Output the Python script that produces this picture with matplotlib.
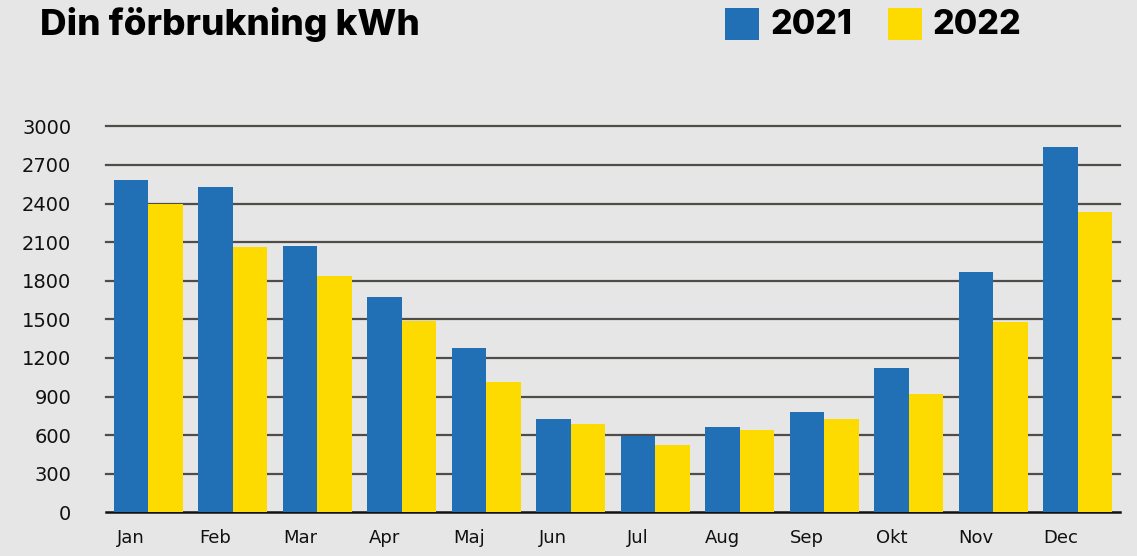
import matplotlib
matplotlib.use("Agg")
import matplotlib.pyplot as plt
import numpy as np

months = ["Jan", "Feb", "Mar", "Apr", "Maj", "Jun", "Jul", "Aug", "Sep", "Okt", "Nov", "Dec"]
values_2021 = [2580, 2530, 2070, 1675, 1275, 725, 590, 660, 780, 1120, 1865, 2840]
values_2022 = [2400, 2060, 1840, 1485, 1010, 685, 520, 640, 725, 920, 1480, 2335]
series_labels = ["2021", "2022"]
yticks = [0, 300, 600, 900, 1200, 1500, 1800, 2100, 2400, 2700, 3000]

BLUE = "#2170b5"
YELLOW = "#fedb00"
BG = "#e6e6e6"
GRID = "#4f4c4a"

W, H = 1137, 556
fig = plt.figure(figsize=(W / 100, H / 100), dpi=100, facecolor=BG)
ax = fig.add_axes([106 / W, 1 - 512.3 / H, (1120 - 106) / W, (512.3 - 126.3) / H])
ax.set_facecolor(BG)

x = np.arange(len(months))
bw = 0.41
ax.bar(x - bw / 2, values_2021, width=bw, color=BLUE, zorder=3, linewidth=0)
ax.bar(x + bw / 2, values_2022, width=bw, color=YELLOW, zorder=3, linewidth=0)

ax.set_xlim(-0.5, len(months) - 0.5)
ax.set_ylim(0, 3000)
for t in yticks[1:]:
    ax.axhline(t, color=GRID, linewidth=1.6, zorder=1, clip_on=False)
ax.axhline(0, color="#111111", linewidth=1.8, zorder=2, clip_on=False)

for s in ax.spines.values():
    s.set_visible(False)

ax.set_yticks(yticks)
ax.set_yticklabels([str(t) for t in yticks], fontsize=14, family="DejaVu Sans", color="#111111")
ax.set_xticks(x - bw / 2)
ax.set_xticklabels(months, fontsize=13, family="DejaVu Sans", color="#111111")
ax.tick_params(axis="y", length=0, pad=25)
ax.tick_params(axis="x", length=0, pad=12)

# Title
fig.text(40 / W, 1 - 25 / H, "Din förbrukning kWh", fontsize=26.5, fontweight="heavy",
         family="Inter", va="center", ha="left", color="#000000")

# Legend
def legend_item(x0, color, label):
    fig.patches.append(plt.Rectangle((x0 / W, 1 - 40 / H), 34 / W, 32 / H,
                                     transform=fig.transFigure, facecolor=color,
                                     edgecolor="none", figure=fig))
    fig.text((x0 + 45) / W, 1 - 25 / H, label, fontsize=24.5, fontweight="heavy",
             family="Inter", va="center", ha="left", color="#000000")

legend_item(725, BLUE, series_labels[0])
legend_item(888, YELLOW, series_labels[1])

fig.savefig("out.png", dpi=100, facecolor=BG)
